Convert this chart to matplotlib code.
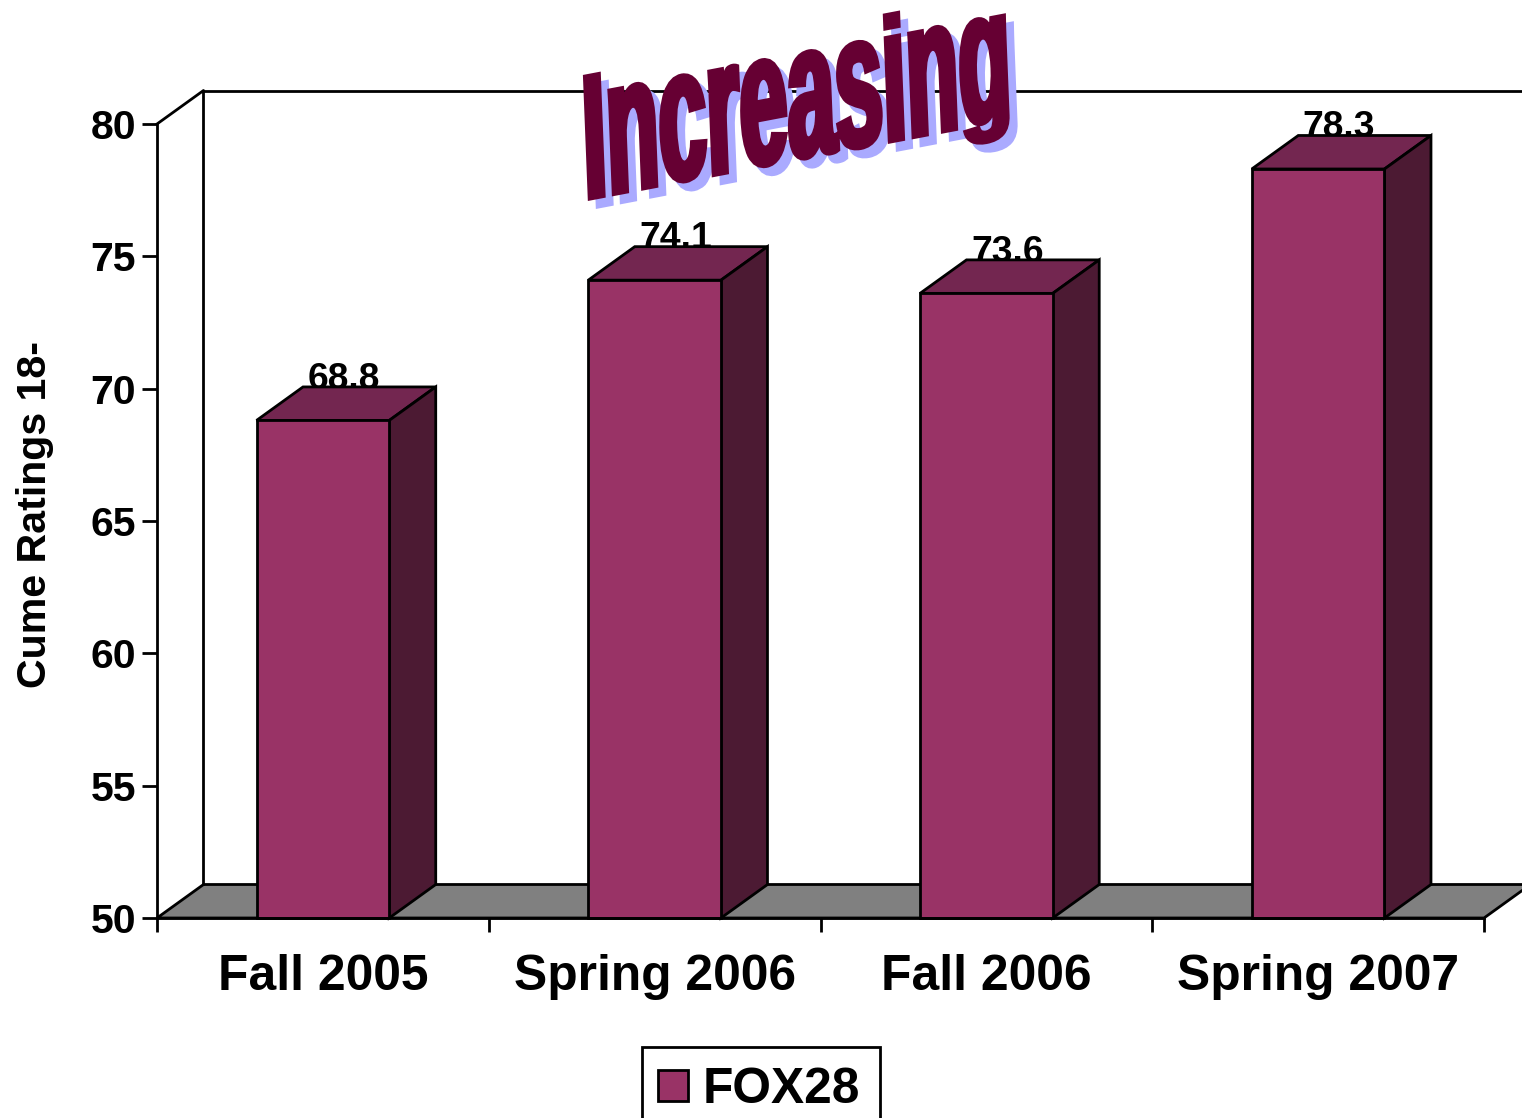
import matplotlib
matplotlib.use("Agg")
import matplotlib.pyplot as plt
import numpy as np
from matplotlib.colors import to_rgb
from matplotlib.path import Path
from matplotlib.patches import Polygon, Rectangle
from matplotlib.patheffects import AbstractPathEffect
from matplotlib.transforms import Affine2D

plt.rcParams['font.family'] = ['Liberation Sans', 'DejaVu Sans']
plt.rcParams['font.weight'] = 'bold'

categories = ['Fall 2005', 'Spring 2006', 'Fall 2006', 'Spring 2007']
values = [68.8, 74.1, 73.6, 78.3]
labels = ['68.8', '74.1', '73.6', '78.3']
y_ticks = [50, 55, 60, 65, 70, 75, 80]
series_name = 'FOX28'

W, H = 1522, 1118
BAR = '#993366'
TOP = '#732650'
SIDE = '#4C1A33'
FLOOR = '#808080'
LW = 2.0


# squeezes and slants the text like the wordart in the original
class Warp(AbstractPathEffect):
    def __init__(self, matrix, center, color, stroke, offset=(0, 0)):
        super().__init__()
        self.matrix = matrix
        self.center = center
        self.color = to_rgb(color)
        self.stroke = stroke
        self.offset = offset

    def draw_path(self, renderer, gc, tpath, affine, rgbFace=None):
        a, b, c, d = self.matrix
        warp = (Affine2D().translate(-self.center[0], -self.center[1])
                + Affine2D.from_values(a, b, c, d, 0, 0)
                + Affine2D().translate(self.center[0] + self.offset[0],
                                       self.center[1] + self.offset[1]))
        # short descenders, tall lowercase
        verts = tpath.vertices.copy()
        verts[:, 1] = np.interp(verts[:, 1], [-30, 0, 53, 73], [-15, 0, 58, 71])
        gc0 = renderer.new_gc()
        gc0.copy_properties(gc)
        gc0.set_foreground(self.color)
        gc0.set_linewidth(self.stroke)
        gc0.set_joinstyle('miter')
        renderer.draw_path(gc0, Path(verts, tpath.codes), affine + warp, self.color)
        gc0.restore()


fig = plt.figure(figsize=(W / 100, H / 100), dpi=100, facecolor='white')
ax = fig.add_axes([157 / W, (H - 918) / H, 1327 / W, 794 / H])
ax.set_xlim(0, 4)
ax.set_ylim(50, 80)
ax.patch.set_visible(False)

# depth of the fake 3d, in data units
dx = 46.5 / (1327 / 4)
dy = 33.5 / (794 / 30)

# walls and floor
ax.add_patch(Polygon([(0, 50), (dx, 50 + dy), (4 + dx, 50 + dy), (4, 50)],
                     closed=True, fc=FLOOR, ec='black', lw=LW, clip_on=False, zorder=1))
ax.plot([0, dx, dx], [80, 80 + dy, 50 + dy], color='black', lw=LW, clip_on=False, zorder=1)
ax.plot([dx, 4 + dx], [80 + dy, 80 + dy], color='black', lw=LW, clip_on=False, zorder=1)

centers = [i + 0.5 for i in range(len(values))]
w = 0.4

for c, v, t in zip(centers, values, labels):
    ax.text(c + 21 / (1327 / 4), v + 1.2, t, fontsize=26.8, ha='center', va='baseline',
            color='black', zorder=2, clip_on=False)

ax.bar(centers, [v - 50 for v in values], bottom=50, width=w, color=BAR, edgecolor='black',
       linewidth=LW, zorder=4, label=series_name, clip_on=False)

for c, v in zip(centers, values):
    l, r = c - w / 2, c + w / 2
    ax.add_patch(Polygon([(l, v), (l + dx, v + dy), (r + dx, v + dy), (r, v)], closed=True,
                         fc=TOP, ec='black', lw=LW, zorder=3, clip_on=False))
    ax.add_patch(Polygon([(r, 50), (r + dx, 50 + dy), (r + dx, v + dy), (r, v)], closed=True,
                         fc=SIDE, ec='black', lw=LW, zorder=3, clip_on=False))

# axes
for s in ['top', 'right']:
    ax.spines[s].set_visible(False)
for s in ['left', 'bottom']:
    ax.spines[s].set_linewidth(LW)
    ax.spines[s].set_zorder(5)
ax.set_yticks(y_ticks)
ax.tick_params(axis='y', length=11, width=LW, pad=4, labelsize=29.5)
ax.set_xticks(range(5))
ax.set_xticklabels([])
ax.set_xticks(centers, minor=True)
ax.set_xticklabels(categories, minor=True)
ax.tick_params(axis='x', which='major', length=10, width=LW)
ax.tick_params(axis='x', which='minor', length=0, pad=26, labelsize=35.8)

fig.text(35 / W, (H - 688) / H, 'Cume Ratings 18-', rotation=90, ha='center', va='bottom',
         fontsize=29.6)

# legend frame runs off the bottom of the picture
fig.add_artist(Rectangle((642 / W, -20 / H), 238 / W, (H - 1047 + 20) / H, fc='white', ec='black',
                         lw=LW, transform=fig.transFigure))
leg = ax.legend(loc='center left', bbox_to_anchor=(658 / W, (H - 1090) / H),
                bbox_transform=fig.transFigure, borderaxespad=0, fontsize=35.7,
                handlelength=0.6, handleheight=0.6, handletextpad=0.3, borderpad=0,
                frameon=False)
leg.set_zorder(20)
leg.remove()
fig.add_artist(leg)

# title wordart
cx, cy = 797 / W, (H - 113) / H
title = fig.text(cx, cy, 'Increasing', fontsize=100, ha='center', va='center', zorder=10)
fig.canvas.draw()
ext = title.get_window_extent()
sx = 428 / ext.width
center = (cx * W, cy * H)
matrix = (sx, sx * 0.19, -0.05, 1.27)
title.set_path_effects([
    Warp(matrix, center, '#AAAAFF', 4, offset=(8, -8)),
    Warp(matrix, center, '#660033', 4),
])

fig.savefig('out.png', dpi=100)
